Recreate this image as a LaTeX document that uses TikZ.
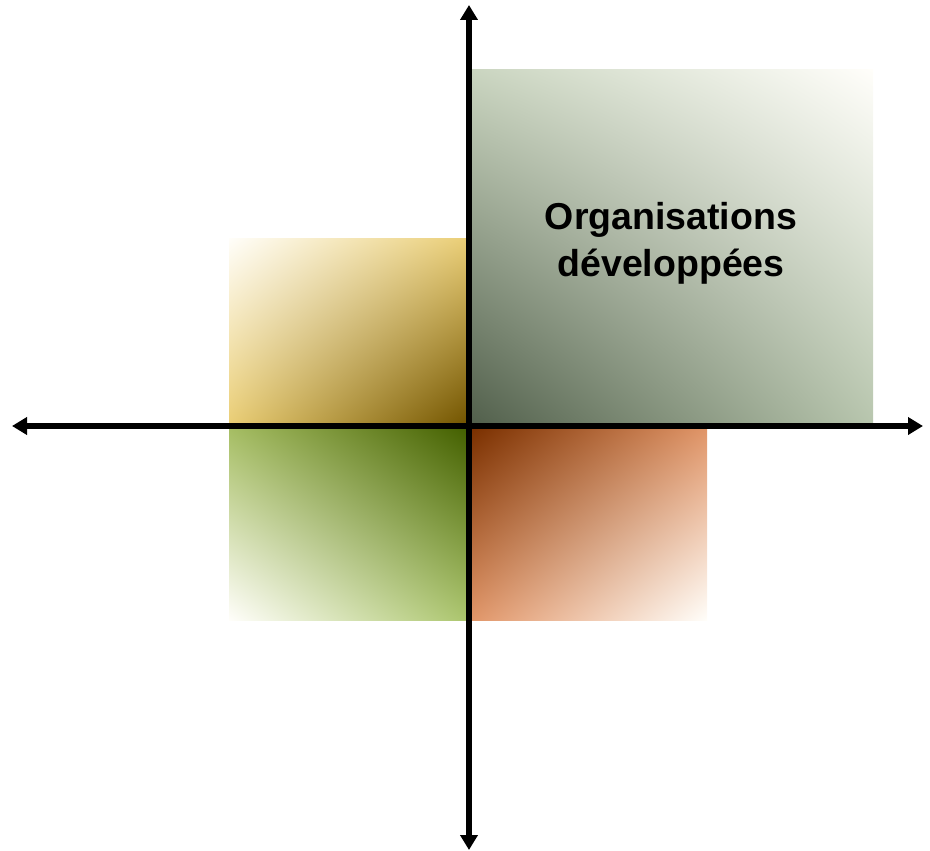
\documentclass[tikz,border=0pt]{standalone}
\usepackage{fontspec}
\setmainfont{Liberation Sans}
\usetikzlibrary{arrows.meta,shadings}
\definecolor{grDark}{RGB}{82,96,76}
\definecolor{grMidA}{RGB}{202,213,192}
\definecolor{grMidB}{RGB}{184,198,174}
\definecolor{goDark}{RGB}{115,85,0}
\definecolor{goMid}{RGB}{234,206,118}
\definecolor{gnDark}{RGB}{68,96,0}
\definecolor{gnMidA}{RGB}{166,190,100}
\definecolor{gnMidB}{RGB}{172,198,110}
\definecolor{orDark}{RGB}{122,48,0}
\definecolor{orMid}{RGB}{225,150,105}
\definecolor{paleW}{RGB}{255,254,250}
\tikzset{
  axisline/.style={line width=5.5pt, {Triangle[width=17pt,length=15pt]}-{Triangle[width=17pt,length=15pt]}},
  labeltext/.style={font=\bfseries\fontsize{37.5}{47}\selectfont, align=center, inner sep=0pt}
}
\begin{document}
\begin{tikzpicture}[x=1pt,y=-1pt]
\useasboundingbox (0,0) rectangle (930,851);
% quadrant fills
\shade[lower left=grDark, upper right=paleW, upper left=grMidA, lower right=grMidB] (472,70) rectangle (873,423);
\shade[lower right=goDark, upper left=paleW, lower left=goMid, upper right=goMid] (229,238) rectangle (467,423);
\shade[upper right=gnDark, lower left=paleW, upper left=gnMidA, lower right=gnMidB] (229,429) rectangle (467,620);
\shade[upper left=orDark, lower right=paleW, upper right=orMid, lower left=orMid] (472,429) rectangle (707,620);
% axes
\coordinate (W) at (12,426);
\coordinate (E) at (923,426);
\coordinate (N) at (469,5);
\coordinate (S) at (469,850);
\draw[axisline] (W) -- (E);
\draw[axisline] (N) -- (S);
\node[labeltext] (lbl) at (671,243) {Organisations\\développées};
\end{tikzpicture}
\end{document}
